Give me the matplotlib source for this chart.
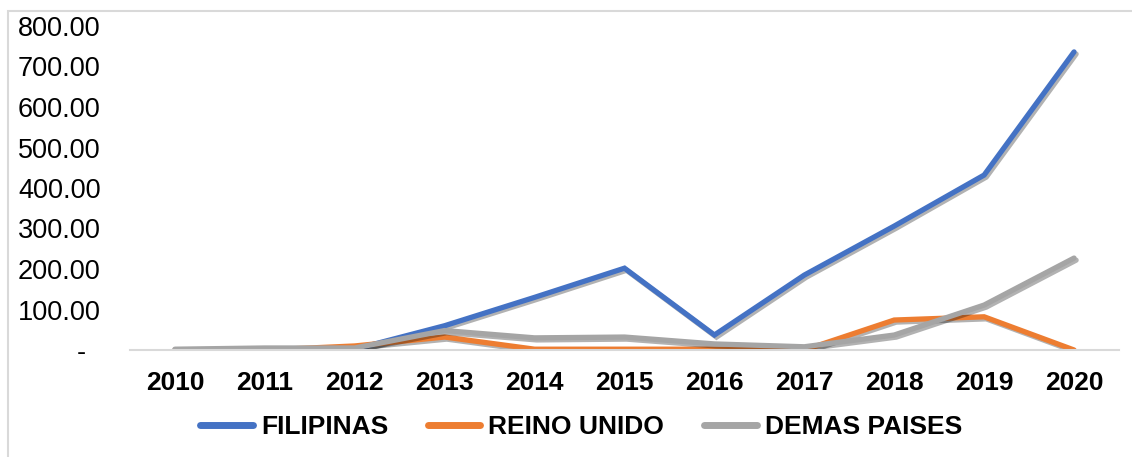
import matplotlib
matplotlib.use("Agg")
import matplotlib.pyplot as plt
import matplotlib.patheffects as pe
from matplotlib.patches import Rectangle

plt.rcParams['font.family'] = ['Liberation Sans', 'DejaVu Sans']

years = ['2010', '2011', '2012', '2013', '2014', '2015', '2016', '2017', '2018', '2019', '2020']
filipinas = [0, 0, 2, 60, 130, 202, 37, 185, 306, 432, 736]
reino_unido = [0, 0, 10, 32, 2, 2, 2, 0, 74, 82, 0]
demas_paises = [2, 5, 5, 48, 30, 32, 15, 8, 37, 111, 227]

series = [
    ('FILIPINAS', filipinas, '#4472C4'),
    ('REINO UNIDO', reino_unido, '#ED7D31'),
    ('DEMAS PAISES', demas_paises, '#A5A5A5'),
]

fig = plt.figure(figsize=(11.32, 4.57), dpi=100)
fig.patches.append(Rectangle((8 / 1132, -0.1), 1.2, 1 - 11 / 457 + 0.1,
                             transform=fig.transFigure, fill=False,
                             edgecolor='#d9d9d9', linewidth=1.5))
ax = fig.add_axes([130 / 1132, 1 - 350 / 457, (1119 - 130) / 1132, (350 - 26) / 457])

x = list(range(len(years)))
shadow = [pe.SimpleLineShadow(offset=(1.5, -1.5), alpha=0.3, shadow_color='black'), pe.Normal()]
for name, vals, col in series:
    ax.plot(x, vals, color=col, lw=3.8, label=name, solid_capstyle='round',
            solid_joinstyle='miter', path_effects=shadow)

ax.set_xlim(-0.5, len(years) - 0.5)
ax.set_ylim(0, 800)
ax.set_xticks(x)
ax.set_xticklabels(years, fontsize=19, fontweight='bold')
yt = list(range(0, 801, 100))
ax.set_yticks(yt)
ax.set_yticklabels(['-  '] + ['%.2f' % v for v in yt[1:]], fontsize=19.5)
ax.tick_params(axis='both', length=0)
ax.tick_params(axis='y', pad=21)
ax.tick_params(axis='x', pad=15)
for s in ['top', 'right', 'left']:
    ax.spines[s].set_visible(False)
ax.spines['bottom'].set_color('#d9d9d9')
ax.spines['bottom'].set_linewidth(1.5)

leg = fig.legend(loc='center', bbox_to_anchor=(581 / 1132, 1 - 427 / 457), ncol=3,
                 frameon=False, prop={'weight': 'bold', 'size': 19},
                 handlelength=2.0, handletextpad=0.3, columnspacing=1.5)
for h in leg.get_lines():
    h.set_linewidth(5)
    h.set_solid_capstyle('round')
    h.set_path_effects([])

fig.savefig('out.png', dpi=100)
